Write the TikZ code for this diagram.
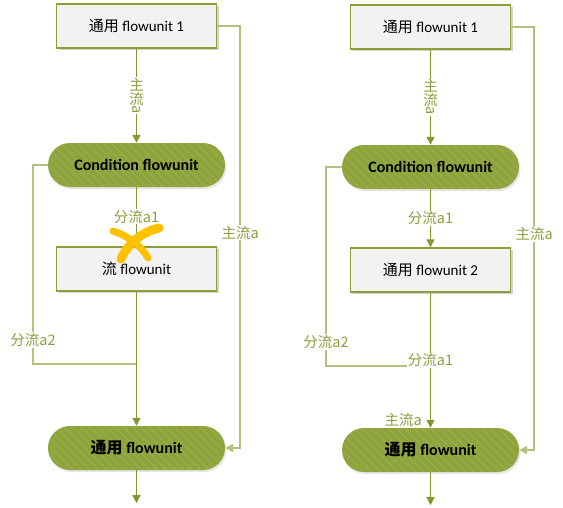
\documentclass[tikz,border=0pt]{standalone}
\usepackage{fontspec}
\setmainfont{Carlito}
\newfontfamily\cjk{Noto Sans CJK SC}
\usetikzlibrary{arrows.meta,shadows,patterns.meta}
\definecolor{boxline}{HTML}{8E9F3A}
\definecolor{boxfill}{HTML}{F2F2F2}
\definecolor{pillfill}{HTML}{8FA43D}
\definecolor{pillhatch}{HTML}{9FB453}
\definecolor{mainline}{HTML}{819A2E}
\definecolor{loopcol}{HTML}{B2C17C}
\definecolor{labtext}{HTML}{8E9E3E}
\definecolor{markcol}{HTML}{FFC000}
\tikzset{
  unit/.style={draw=boxline, line width=1.4pt, fill=boxfill,
    minimum width=160pt, minimum height=44pt,
    drop shadow={opacity=.35, shadow xshift=2pt, shadow yshift=-2pt},
    font=\fontsize{15}{17}\selectfont},
  cond/.style={fill=pillfill, rounded corners=22pt,
    minimum width=177pt, minimum height=44pt,
    drop shadow={opacity=.2, shadow xshift=1.5pt, shadow yshift=-2pt},
    postaction={pattern={Lines[angle=-45,distance=6pt,line width=.6pt]},
      pattern color=pillhatch},
    font=\bfseries\fontsize{16}{18}\selectfont},
  tip/.style={-{Triangle[width=8pt,length=8pt]}},
  main/.style={draw=mainline, line width=1.3pt, tip},
  loopline/.style={draw=loopcol, line width=1.8pt},
  lab/.style={fill=white, text=labtext, inner sep=1pt,
    font=\cjk\fontsize{14.5}{15}\selectfont},
  vlab/.style={lab, align=center, font=\cjk\fontsize{14.5}{14}\selectfont},
}
\begin{document}
\begin{tikzpicture}[x=1pt,y=-1pt]
  \useasboundingbox (0,0) rectangle (563,507);
  %% Left chain
  \node[unit] (1) at (136.5,26) {{\cjk 通用} flowunit 1};
  \node[cond,node distance=139pt,below of=1] (2) {Condition flowunit};
  \node[unit,node distance=104pt,below of=2] (3) {{\cjk 流} flowunit};
  \node[cond,node distance=179pt,below of=3] (4) {{\cjk 通用} flowunit};
  \coordinate (m1) at (136.5,364);
  \coordinate (k1) at (33,364);
  %% Right chain
  \node[unit] (5) at (430.5,27) {{\cjk 通用} flowunit 1};
  \node[cond,node distance=140pt,below of=5] (6) {Condition flowunit};
  \node[unit,node distance=103pt,below of=6] (7) {{\cjk 通用} flowunit 2};
  \node[cond,node distance=180pt,below of=7] (8) {{\cjk 通用} flowunit};
  \coordinate (m2) at (430.5,366);
  \coordinate (k2) at (326,366);
  %% Loops
  \draw[loopline] (2.west) -| node[lab,pos=0.94] {分流a2} (k1) -- (m1);
  \draw[loopline,tip] (1.east) -- ++(23,0) |- node[lab,pos=0.245] {主流a} (4.east);
  \draw[loopline] (6.west) -| node[lab,pos=0.94] {分流a2} (k2) -- (m2);
  \draw[loopline,tip] (5.east) -- ++(23,0) |- node[lab,pos=0.245] {主流a} (8.east);
  %% Main arrows
  \draw[main] (1) -- node[vlab] {主\\流\\[-5pt]\rotatebox[origin=c]{-90}{a}} (2);
  \draw[main] (2) -- node[lab] {分流a1} (3);
  \draw[main] (3) -- (4);
  \draw[main] (4.south) -- ++(0,33);
  \draw[main] (5) -- node[vlab] {主\\流\\[-5pt]\rotatebox[origin=c]{-90}{a}} (6);
  \draw[main] (6) -- node[lab] {分流a1} (7);
  \draw[main] (7) -- node[lab] {分流a1}
    node[lab,pos=0.94,left,xshift=-7pt] {主流a} (8);
  \draw[main] (8.south) -- ++(0,33);
  %% Cross
  \draw[markcol,line width=9pt,line cap=round]
    (159,228) .. controls (141,232) and (127,245) .. (121,259);
  \draw[markcol,line width=7pt,line cap=round]
    (113,231) .. controls (126,235) and (141,245) .. (148,258);
\end{tikzpicture}
\end{document}
